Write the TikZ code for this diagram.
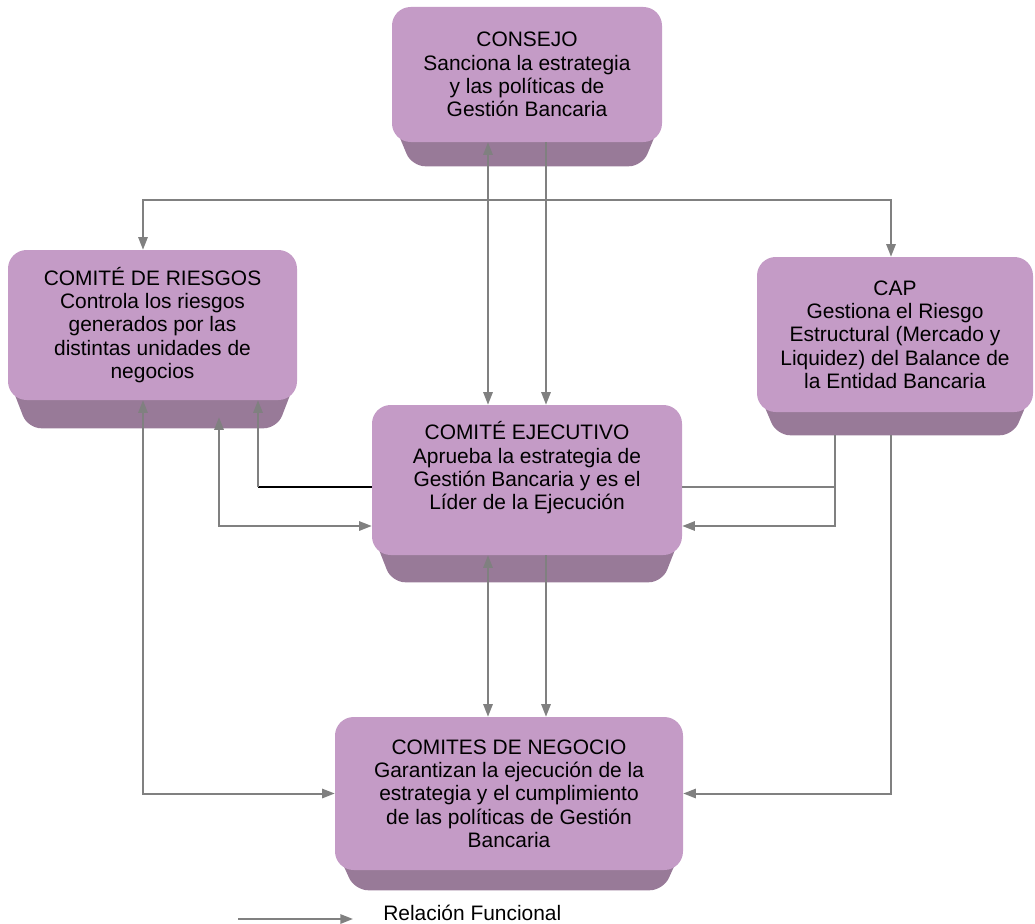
\documentclass[tikz,border=0pt]{standalone}
\usepackage{fontspec}
\setmainfont{Liberation Sans}
\usetikzlibrary{arrows.meta,calc,backgrounds}

\definecolor{facecol}{RGB}{196,155,198}
\definecolor{basecol}{RGB}{152,122,152}
\definecolor{linkcol}{RGB}{128,128,128}

\tikzset{
  face/.style={rectangle, rounded corners=14pt, fill=facecol, inner sep=0pt,
    align=center, font=\fontsize{15.7}{17.5}\selectfont},
  link/.style={draw=linkcol, line width=1.5pt, >={Triangle[length=9.5pt,width=7pt]}},
  blackline/.style={draw=black, line width=1.5pt},
}

% dark lower part of a box: node name, depth below the face
\newcommand{\boxbase}[2]{%
  \fill[basecol, rounded corners=10pt] ($(#1.south west)+(0,-24)$) -- ($(#1.south west)+(20,#2)$)
    -- ($(#1.south east)+(-20,#2)$) -- ($(#1.south east)+(0,-24)$) -- cycle;}

\begin{document}
\begin{tikzpicture}[x=0.75pt,y=0.75pt,yscale=-1,xscale=1]
\useasboundingbox (0,0) rectangle (1035,924);

% Boxes
\node[face, minimum width=270*0.75pt, minimum height=135*0.75pt] (consejo) at (527,74.5)
  {CONSEJO\\Sanciona la estrategia\\y las políticas de\\Gestión Bancaria};
\node[face, minimum width=289*0.75pt, minimum height=150*0.75pt] (riesgos) at (152.5,325)
  {COMITÉ DE RIESGOS\\Controla los riesgos\\generados por las\\distintas unidades de\\negocios};
\node[face, minimum width=276*0.75pt, minimum height=155*0.75pt] (cap) at (895,334.5)
  {CAP\\Gestiona el Riesgo\\Estructural (Mercado y\\Liquidez) del Balance de\\la Entidad Bancaria};
\node[face, minimum width=310*0.75pt, minimum height=150*0.75pt] (ejec) at (527,480)
  {\raisebox{0pt}[\height][\dimexpr\depth+16pt\relax]{\begin{tabular}{@{}c@{}}COMITÉ EJECUTIVO\\Aprueba la estrategia de\\Gestión Bancaria y es el\\Líder de la Ejecución\end{tabular}}};
\node[face, minimum width=348*0.75pt, minimum height=153*0.75pt] (negocio) at (509,793.5)
  {COMITES DE NEGOCIO\\Garantizan la ejecución de la\\estrategia y el cumplimiento\\de las políticas de Gestión\\Bancaria};

\begin{scope}[on background layer]
\boxbase{consejo}{24}
\boxbase{riesgos}{28}
\boxbase{cap}{23}
\boxbase{ejec}{27}
\boxbase{negocio}{20}
\end{scope}

% Line positions
\coordinate (xa) at (488,0);
\coordinate (xb) at (546,0);
\coordinate (xl1) at (143,0);
\coordinate (xl2) at (219,0);
\coordinate (xl3) at (258,0);
\coordinate (xr1) at (835,0);
\coordinate (xr2) at (891,0);
\coordinate (ytop) at (0,200);
\coordinate (ymid) at (0,487);
\coordinate (ylow) at (0,526);

% Consejo - Ejecutivo - Negocio
\draw[link,<->] (consejo.south -| xa) -- (ejec.north -| xa);
\draw[link,->] (consejo.south -| xb) -- (ejec.north -| xb);
\draw[link,<->] (riesgos.north -| xl1) -- (xl1 |- ytop) -- (xr2 |- ytop) -- (cap.north -| xr2);
\draw[link,<->] (ejec.south -| xa) -- (negocio.north -| xa);
\draw[link,->] (ejec.south -| xb) -- (negocio.north -| xb);

% Riesgos
\draw[link,<->] (riesgos.south -| xl1) |- (negocio.west);
\draw[link,<->] ($(riesgos.south -| xl2)+(0,17)$) |- (ejec.west |- ylow);
\draw[blackline] (ejec.west |- ymid) -- (xl3 |- ymid);
\draw[link,->] (xl3 |- ymid) -- (riesgos.south -| xl3);

% CAP
\draw[link,->] ($(cap.south -| xr1)+(0,23)$) |- (ejec.east |- ylow);
\draw[link] (ejec.east |- ymid) -- (xr1 |- ymid);
\draw[link,->] ($(cap.south -| xr2)+(0,23)$) |- (negocio.east);

% Legend
\coordinate (lg-a) at (238,919);
\coordinate (lg-b) at (353,919);
\draw[link,->] (lg-a) -- (lg-b);
\node[anchor=west, inner sep=0pt, font=\fontsize{15.7}{17.5}\selectfont] (legend) at (383,913) {Relación Funcional};

\end{tikzpicture}
\end{document}
